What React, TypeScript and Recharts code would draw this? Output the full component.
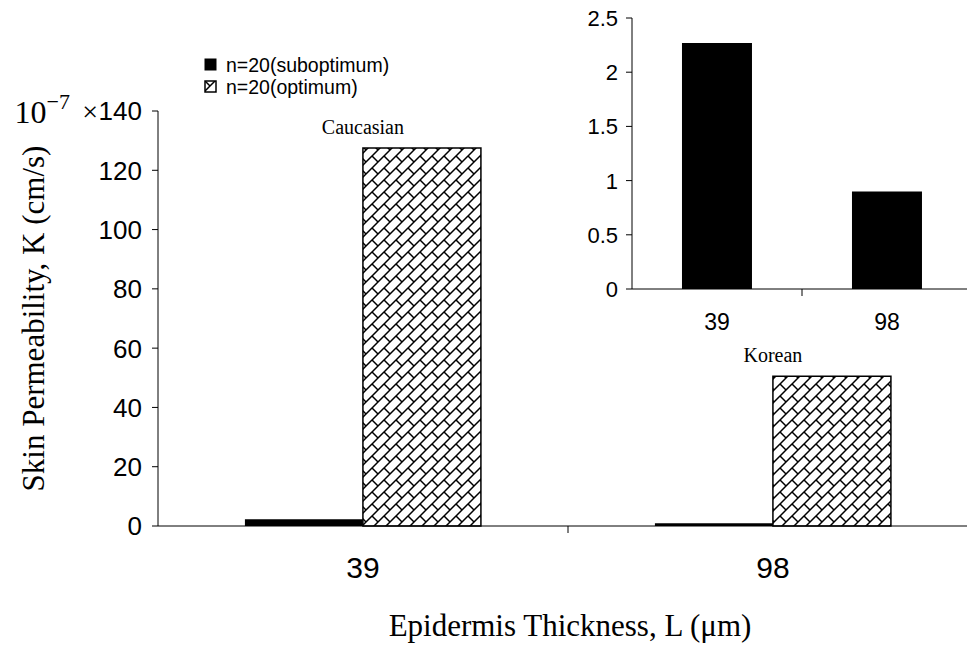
import React from "react";
import { BarChart, Bar, XAxis, YAxis, LabelList, Label } from "recharts";

const categories = ["39", "98"];
const regions = ["Caucasian", "Korean"];
const suboptimum = [2.27, 0.9];
const optimum = [127.5, 50.5];
const mainTicks = [0, 20, 40, 60, 80, 100, 120, 140];
const insetTicks = [0, 0.5, 1, 1.5, 2, 2.5];
const seriesNames = ["n=20(suboptimum)", "n=20(optimum)"];

const data = categories.map((c, i) => ({
  thickness: c,
  region: regions[i],
  sub: suboptimum[i],
  opt: optimum[i],
}));

const SANS = "'Liberation Sans', Arial, sans-serif";
const SERIF = "'Liberation Serif', 'Times New Roman', serif";

function MainYTick(props: any) {
  const { x, y, payload } = props;
  const v = payload.value;
  return (
    <g>
      <text x={x} y={y} dy="0.36em" textAnchor="end" fontFamily={SANS} fontSize={26} fill="#000">
        {v}
      </text>
      {v === 140 && (
        <g fontFamily={SERIF} fill="#000">
          <text x={x - 44} y={y} dy="0.36em" textAnchor="end" fontSize={28}>
            ×
          </text>
          <text x={x - 72} y={y} dy="0.36em" textAnchor="end" fontSize={32}>
            10
            <tspan dy={-14} fontSize={22}>
              −7
            </tspan>
          </text>
        </g>
      )}
    </g>
  );
}

function CatTick(props: any) {
  const { x, y, payload, index, visibleTicksCount, fontSize, dy } = props;
  const off = payload.offset ?? 0;
  const last = index === (visibleTicksCount ?? 2) - 1;
  return (
    <g>
      {!last && <line x1={x + off} x2={x + off} y1={y} y2={y + 7} stroke="#000" strokeWidth={1} />}
      <text x={x} y={y + dy} textAnchor="middle" fontFamily={SANS} fontSize={fontSize} fill="#000">
        {payload.value}
      </text>
    </g>
  );
}

function InsetYTick(props: any) {
  const { x, y, payload } = props;
  return (
    <text x={x} y={y} dy="0.36em" textAnchor="end" fontFamily={SANS} fontSize={22} fill="#000">
      {payload.value}
    </text>
  );
}

function RegionLabel(props: any) {
  const { x, y, value } = props;
  return (
    <text x={x} y={y - 14} textAnchor="middle" fontFamily={SERIF} fontSize={20} fill="#000">
      {value}
    </text>
  );
}

function Brick({ id }: { id: string }) {
  return (
    <pattern id={id} patternUnits="userSpaceOnUse" width={12} height={12}>
      <rect width={12} height={12} fill="#fff" />
      <path d="M-1,13 L13,-1 M-1,1 L1,-1 M11,13 L13,11" stroke="#000" strokeWidth={1.5} />
      <path d="M0,0 L6,6" stroke="#000" strokeWidth={1.5} />
    </pattern>
  );
}

export default function App() {
  return (
    <div
      style={{
        position: "absolute",
        left: 0,
        top: 0,
        width: 967,
        height: 648,
        overflow: "hidden",
        background: "#fff",
      }}
    >
      <svg width={0} height={0} style={{ position: "absolute" }}>
        <defs>
          <Brick id="brickLegend" />
        </defs>
      </svg>
      <div style={{ position: "absolute", left: 0, top: 0 }}>
        <BarChart
          width={990}
          height={648}
          data={data}
          margin={{ top: 111, right: 12, bottom: 62, left: 0 }}
          barCategoryGap="21.2%"
          barGap={0}
        >
          <defs>
            <Brick id="brick" />
          </defs>
          <XAxis
            dataKey="thickness"
            height={60}
            axisLine={{ stroke: "#000", strokeWidth: 1 }}
            tickLine={false}
            tickSize={0}
            tickMargin={0}
            tick={<CatTick fontSize={30} dy={52} />}
          >
            <Label
              content={(p: any) => (
                <text
                  x={p.viewBox.x + p.viewBox.width / 2 + 2}
                  y={p.viewBox.y + 110}
                  textAnchor="middle"
                  fontFamily={SERIF}
                  fontSize={31}
                  fill="#000"
                >
                  Epidermis Thickness, L (μm)
                </text>
              )}
            />
          </XAxis>
          <YAxis
            width={158}
            domain={[0, 140]}
            ticks={mainTicks}
            interval={0}
            axisLine={{ stroke: "#000", strokeWidth: 1 }}
            tickLine={{ stroke: "#000", strokeWidth: 1 }}
            tickSize={6}
            tickMargin={10}
            tick={<MainYTick />}
          >
            <Label
              content={(p: any) => (
                <text
                  x={p.viewBox.x + 33}
                  y={p.viewBox.y + p.viewBox.height / 2}
                  transform={`rotate(-90 ${p.viewBox.x + 33} ${p.viewBox.y + p.viewBox.height / 2})`}
                  textAnchor="middle"
                  dominantBaseline="central"
                  fontFamily={SERIF}
                  fontSize={31}
                  fill="#000"
                >
                  Skin Permeability, K (cm/s)
                </text>
              )}
            />
          </YAxis>
          <Bar dataKey="sub" name={seriesNames[0]} fill="#000" isAnimationActive={false} />
          <Bar
            dataKey="opt"
            name={seriesNames[1]}
            fill="url(#brick)"
            stroke="#000"
            strokeWidth={1.5}
            isAnimationActive={false}
          >
            <LabelList dataKey="region" content={<RegionLabel />} />
          </Bar>
        </BarChart>
      </div>

      <div style={{ position: "absolute", left: 560, top: 0 }}>
        <BarChart
          width={420}
          height={340}
          data={data}
          margin={{ top: 18, right: 8, bottom: 0, left: 0 }}
          barCategoryGap="29.4%"
        >
          <XAxis
            dataKey="thickness"
            height={51}
            axisLine={{ stroke: "#000", strokeWidth: 1 }}
            tickLine={false}
            tickSize={0}
            tickMargin={0}
            tick={<CatTick fontSize={23} dy={41} />}
          />
          <YAxis
            width={72}
            domain={[0, 2.5]}
            ticks={insetTicks}
            interval={0}
            axisLine={{ stroke: "#000", strokeWidth: 1 }}
            tickLine={{ stroke: "#000", strokeWidth: 1 }}
            tickSize={6}
            tickMargin={8}
            tick={<InsetYTick />}
          />
          <Bar dataKey="sub" fill="#000" isAnimationActive={false} />
        </BarChart>
      </div>

      <div
        style={{
          position: "absolute",
          left: 204,
          top: 54,
          fontFamily: SANS,
          fontSize: 19.5,
          lineHeight: "22px",
          color: "#000",
        }}
      >
        {seriesNames.map((n, i) => (
          <div key={n} style={{ display: "flex", alignItems: "center", whiteSpace: "nowrap" }}>
            <svg width={14} height={14} style={{ marginRight: 8 }}>
              {i === 0 ? (
                <rect x={0.5} y={0.5} width={12} height={12} fill="#000" />
              ) : (
                <rect x={1} y={1} width={11} height={11} fill="url(#brickLegend)" stroke="#000" strokeWidth={1.5} />
              )}
            </svg>
            <span>{n}</span>
          </div>
        ))}
      </div>
    </div>
  );
}
